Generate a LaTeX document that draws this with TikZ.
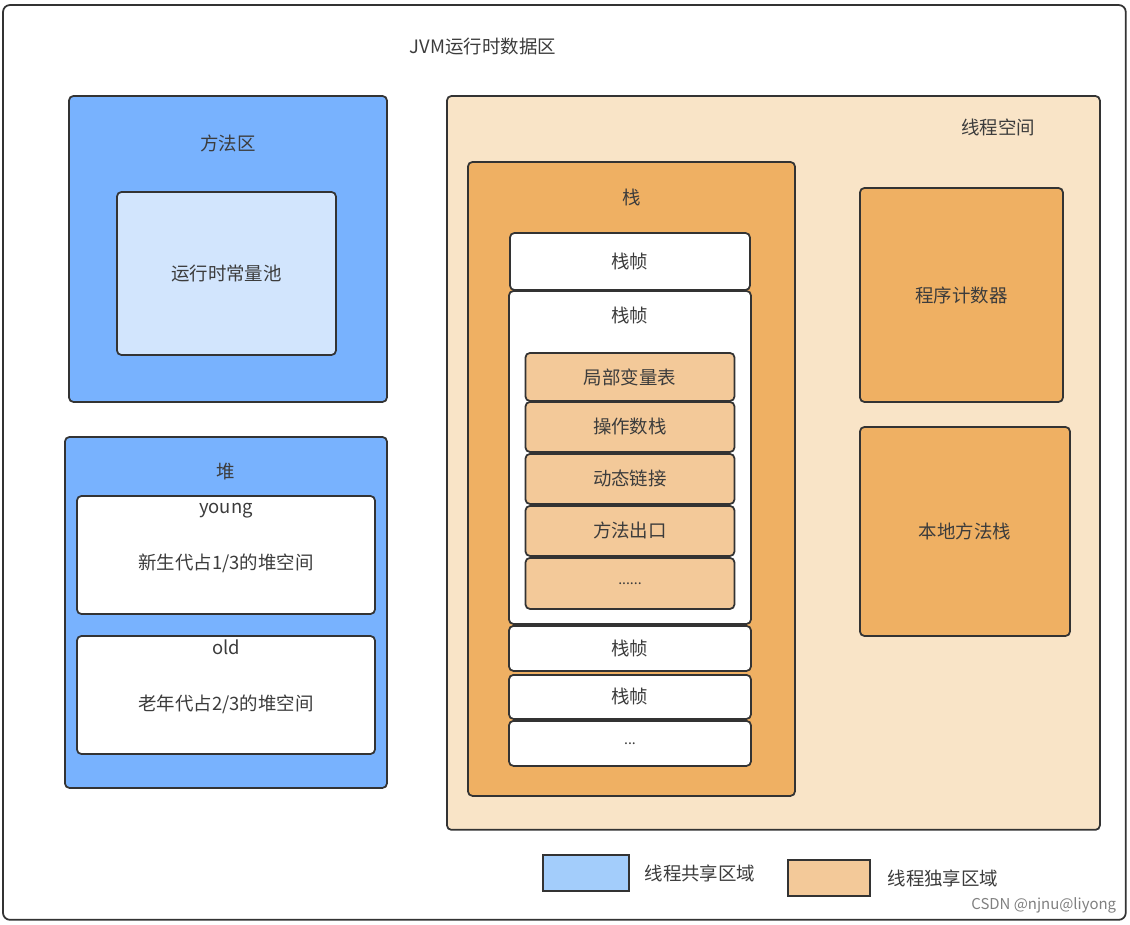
\documentclass[tikz,border=0pt]{standalone}
\usepackage{fontspec}
\setmainfont{Noto Sans CJK SC}
\usetikzlibrary{positioning}
\definecolor{lineC}{HTML}{333333}
\definecolor{textC}{HTML}{3C3C3C}
\definecolor{sharedC}{HTML}{78B2FE}
\definecolor{poolC}{HTML}{D2E5FD}
\definecolor{legBlueC}{HTML}{A3CDFB}
\definecolor{threadC}{HTML}{F9E4C7}
\definecolor{privC}{HTML}{EFB063}
\definecolor{slotC}{HTML}{F3C999}

\begin{document}
\begin{tikzpicture}[x=0.02cm, y=-0.02cm, line width=1pt]
\tikzset{area/.style={rectangle, draw=lineC, rounded corners=2.5pt, anchor=north west, inner sep=0pt, outer sep=0pt, text=textC, font=\fontsize{10.5}{12}\selectfont}}
\tikzset{shared/.style={area, fill=sharedC}}
\tikzset{priv/.style={area, fill=privC}}
\tikzset{frame/.style={area, fill=white}}
\tikzset{slot/.style={area, fill=slotC}}
\tikzset{txt/.style={text=textC, inner sep=1pt, font=\fontsize{10.5}{12}\selectfont}}

\useasboundingbox (0,0) rectangle (1130,924);
\node [area, fill=white, rounded corners=4pt, minimum width=22.46cm, minimum height=18.3cm] (jvm) at (3,5) {};
\node [txt] (jvmt) at (483,47) {JVM运行时数据区};

% shared part
\node [shared, minimum width=6.36cm, minimum height=6.12cm] (ma) at (69,96) {};
\node [txt] (mat) at ([yshift=-0.94cm]ma.north) {方法区};
\node [area, fill=poolC, minimum width=4.38cm, minimum height=3.26cm] (cp) at (117,192) {运行时常量池};

\node [shared, minimum width=6.44cm, minimum height=7.02cm] (heap) at (65,437) {};
\node [txt] (heapt) at ([yshift=-0.7cm]heap.north) {堆};
\node [frame, minimum width=5.96cm, minimum height=2.36cm] (young) at (77,496) {};
\node [txt] (youngt) at ([yshift=-0.3cm]young.north) {young};
\node [txt] (youngd) at (226,563) {新生代占1/3的堆空间};
\node [frame, minimum width=5.96cm, minimum height=2.36cm] (old) at (77,636) {};
\node [txt] (oldt) at ([yshift=-0.22cm]old.north) {old};
\node [txt] (oldd) at (226,704) {老年代占2/3的堆空间};

% thread part
\node [area, fill=threadC, minimum width=13.06cm, minimum height=14.68cm] (ts) at (447,96) {};
\node [txt] (tst) at (998,127) {线程空间};

\node [priv, minimum width=6.54cm, minimum height=12.68cm] (stack) at (468,162) {};
\node [txt] (stackt) at ([yshift=-0.7cm]stack.north) {栈};
\node [frame, minimum width=4.8cm, minimum height=1.14cm] (f1) at (510,233) {栈帧};
\node [frame, below=0.02cm of f1, minimum width=4.84cm, minimum height=6.66cm] (f2) {};
\node [txt] (f2t) at ([yshift=-0.5cm]f2.north) {栈帧};
\node [slot, below=1.24cm of f2.north, minimum width=4.18cm, minimum height=0.96cm] (lv) {局部变量表};
\node [slot, below=0.02cm of lv, minimum width=4.18cm, minimum height=1cm] (os) {操作数栈};
\node [slot, below=0.04cm of os, minimum width=4.18cm, minimum height=1cm] (dl) {动态链接};
\node [slot, below=0.04cm of dl, minimum width=4.18cm, minimum height=1cm] (mx) {方法出口};
\node [slot, below=0.04cm of mx, minimum width=4.18cm, minimum height=1.02cm] (more) {\fontsize{8}{9}\selectfont ......};
\node [frame, below=0.04cm of f2, minimum width=4.84cm, minimum height=0.9cm] (f3) {栈帧};
\node [frame, below=0.08cm of f3, minimum width=4.84cm, minimum height=0.88cm] (f4) {栈帧};
\node [frame, below=0.04cm of f4, minimum width=4.84cm, minimum height=0.9cm] (f5) {\fontsize{8}{9}\selectfont ...};

\node [priv, minimum width=4.06cm, minimum height=4.28cm] (pc) at (860,188) {程序计数器};
\node [priv, minimum width=4.2cm, minimum height=4.18cm] (nm) at (860,427) {本地方法栈};

% legend
\node [area, fill=legBlueC, rounded corners=0pt, minimum width=1.72cm, minimum height=0.72cm] (leg1) at (543,855) {};
\node [txt, right=0.26cm of leg1] (leg1t) {线程共享区域};
\node [area, fill=slotC, rounded corners=0pt, minimum width=1.64cm, minimum height=0.72cm] (leg2) at (788,860) {};
\node [txt, right=0.3cm of leg2] (leg2t) {线程独享区域};

\node [anchor=east, text=gray, inner sep=0pt, font=\fontsize{8.5}{10}\selectfont] (mark) at (1117,905) {CSDN @njnu@liyong};
\end{tikzpicture}
\end{document}
